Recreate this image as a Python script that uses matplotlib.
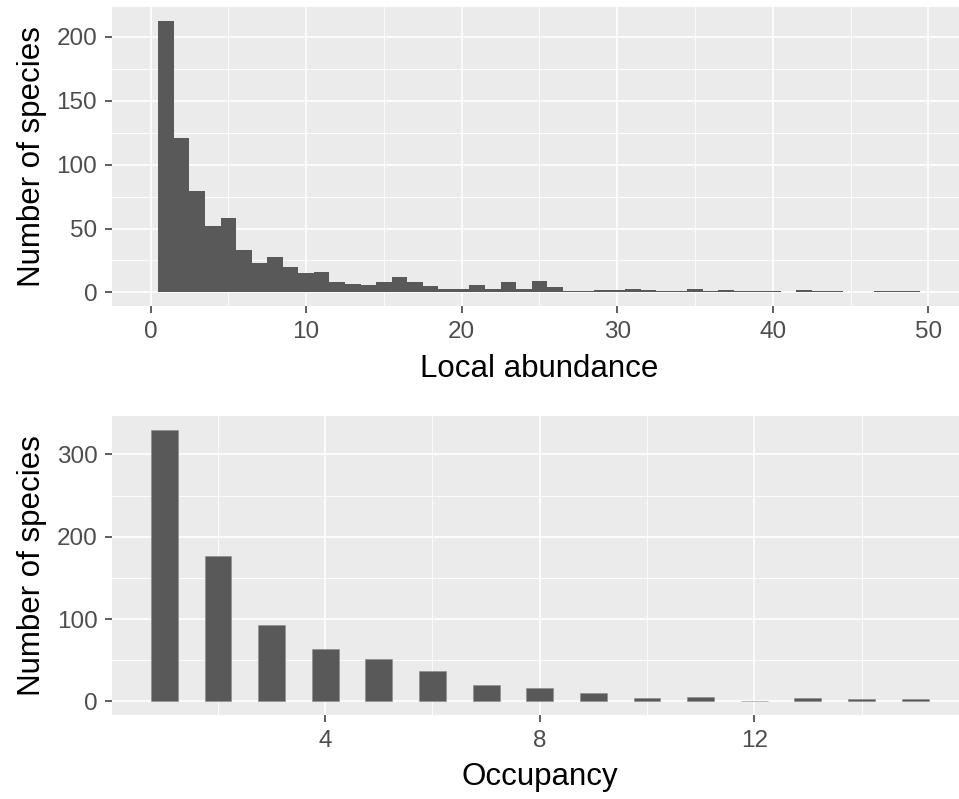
import numpy as np
import matplotlib
matplotlib.use("Agg")
import matplotlib.pyplot as plt
from matplotlib.ticker import MultipleLocator

plt.rcParams['font.family'] = ['Liberation Sans', 'DejaVu Sans']

# local abundance histogram (binwidth 1, bins centred on 1..49)
abund_bins = np.arange(1, 50)
abund_counts = [212, 121, 79, 52, 58, 33, 23, 28, 20, 15,
                16, 8, 7, 6, 8, 12, 8, 5, 3, 3,
                6, 3, 8, 3, 9, 4, 1, 1, 2, 2,
                3, 2, 1, 1, 3, 1, 2, 1, 1, 1,
                0, 2, 1, 1, 0, 0, 1, 1, 1]

# occupancy bar chart
occ_values = np.arange(1, 16)
occ_counts = [330, 176, 93, 64, 52, 37, 20, 16, 10, 4, 5, 1, 4, 3, 3]

BAR = '#595959'
PANEL = '#EBEBEB'


def gg_style(ax):
    ax.set_facecolor(PANEL)
    for s in ax.spines.values():
        s.set_visible(False)
    ax.grid(which='major', color='white', linewidth=1.2)
    ax.grid(which='minor', color='white', linewidth=0.6)
    ax.set_axisbelow(True)
    ax.tick_params(which='major', length=5, width=1.1, color='#333333',
                   labelsize=17.5, labelcolor='#4D4D4D')
    ax.tick_params(axis='y', which='major', pad=5.5)
    ax.tick_params(axis='x', which='major', pad=6)
    ax.tick_params(which='minor', length=0)


fig = plt.figure(figsize=(9.59, 7.99), dpi=100)

ax1 = fig.add_axes([0.1165, 0.617, 0.892, 0.3746])
gg_style(ax1)
ax1.bar(abund_bins, abund_counts, width=1.0, color=BAR, linewidth=0)
ax1.set_xlim(-2.5, 52.5)
ax1.set_ylim(-10.6, 223.4)
ax1.xaxis.set_major_locator(MultipleLocator(10))
ax1.xaxis.set_minor_locator(MultipleLocator(5))
ax1.yaxis.set_major_locator(MultipleLocator(50))
ax1.yaxis.set_minor_locator(MultipleLocator(25))
ax1.set_xlabel('Local abundance', fontsize=22.5, labelpad=8)
ax1.set_ylabel('Number of species', fontsize=22.5, labelpad=7)

ax2 = fig.add_axes([0.1168, 0.1051, 0.892, 0.3742])
gg_style(ax2)
ax2.bar(occ_values, occ_counts, width=0.5, color=BAR, linewidth=0.4,
        edgecolor='#8a8a8a')
ax2.set_xlim(0.025, 15.975)
ax2.set_ylim(-16.5, 346.5)
ax2.set_xticks([4, 8, 12])
ax2.set_xticks([2, 6, 10, 14], minor=True)
ax2.yaxis.set_major_locator(MultipleLocator(100))
ax2.yaxis.set_minor_locator(MultipleLocator(50))
ax2.set_xlabel('Occupancy', fontsize=22.5, labelpad=7)
ax2.set_ylabel('Number of species', fontsize=22.5, labelpad=7)

fig.savefig('out.png', dpi=100)
